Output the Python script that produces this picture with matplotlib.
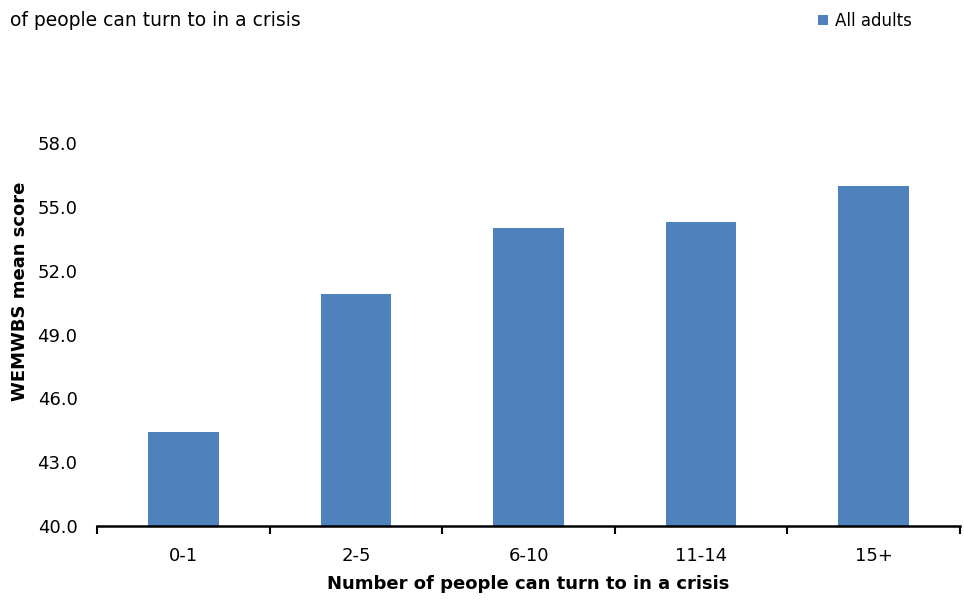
import matplotlib.pyplot as plt
import numpy as np

groups = ['0-1', '2-5', '6-10', '11-14', '15+']
scores = [44.4, 50.9, 54.0, 54.3, 56.0]
yticks = [40.0, 43.0, 46.0, 49.0, 52.0, 55.0, 58.0]

plt.rcParams['font.family'] = 'DejaVu Sans'
fig = plt.figure(figsize=(9.64, 6.01), dpi=100)
ax = fig.add_axes([97/964, 1-526/601, 863/964, 383/601])

x = np.arange(len(groups))
bars = ax.bar(x, scores, width=0.41, color='#4f81bd', label='All adults')

ax.set_xlim(-0.5, len(groups) - 0.5)
ax.set_ylim(40, 58)
ax.set_yticks(yticks)
ax.set_yticklabels(['%.1f' % t for t in yticks], fontsize=13)
ax.tick_params(axis='y', length=0, pad=14)

# category labels in the middle, tick marks on the boundaries
ax.set_xticks(np.arange(-0.5, len(groups)))
ax.set_xticklabels([''] * (len(groups) + 1))
ax.tick_params(axis='x', which='major', length=6, width=1.5, direction='out')
ax.set_xticks(x, minor=True)
ax.set_xticklabels(groups, minor=True, fontsize=13)
ax.tick_params(axis='x', which='minor', length=0, pad=15)

for s in ['top', 'right', 'left']:
    ax.spines[s].set_visible(False)
ax.spines['bottom'].set_linewidth(1.8)

ax.set_ylabel('WEMWBS mean score', fontsize=13, fontweight='bold')
ax.yaxis.set_label_coords(-0.079, 0.614)
ax.set_xlabel('Number of people can turn to in a crisis', fontsize=13, fontweight='bold', labelpad=7)

fig.text(10/964, 1-26/601, 'of people can turn to in a crisis', fontsize=13.5)
fig.legend(handles=[bars], loc='upper left', bbox_to_anchor=(803/964, 1.005), frameon=False,
           fontsize=12, handlelength=0.6, handleheight=0.6, handletextpad=0.4)

fig.savefig('out.png', dpi=100)
